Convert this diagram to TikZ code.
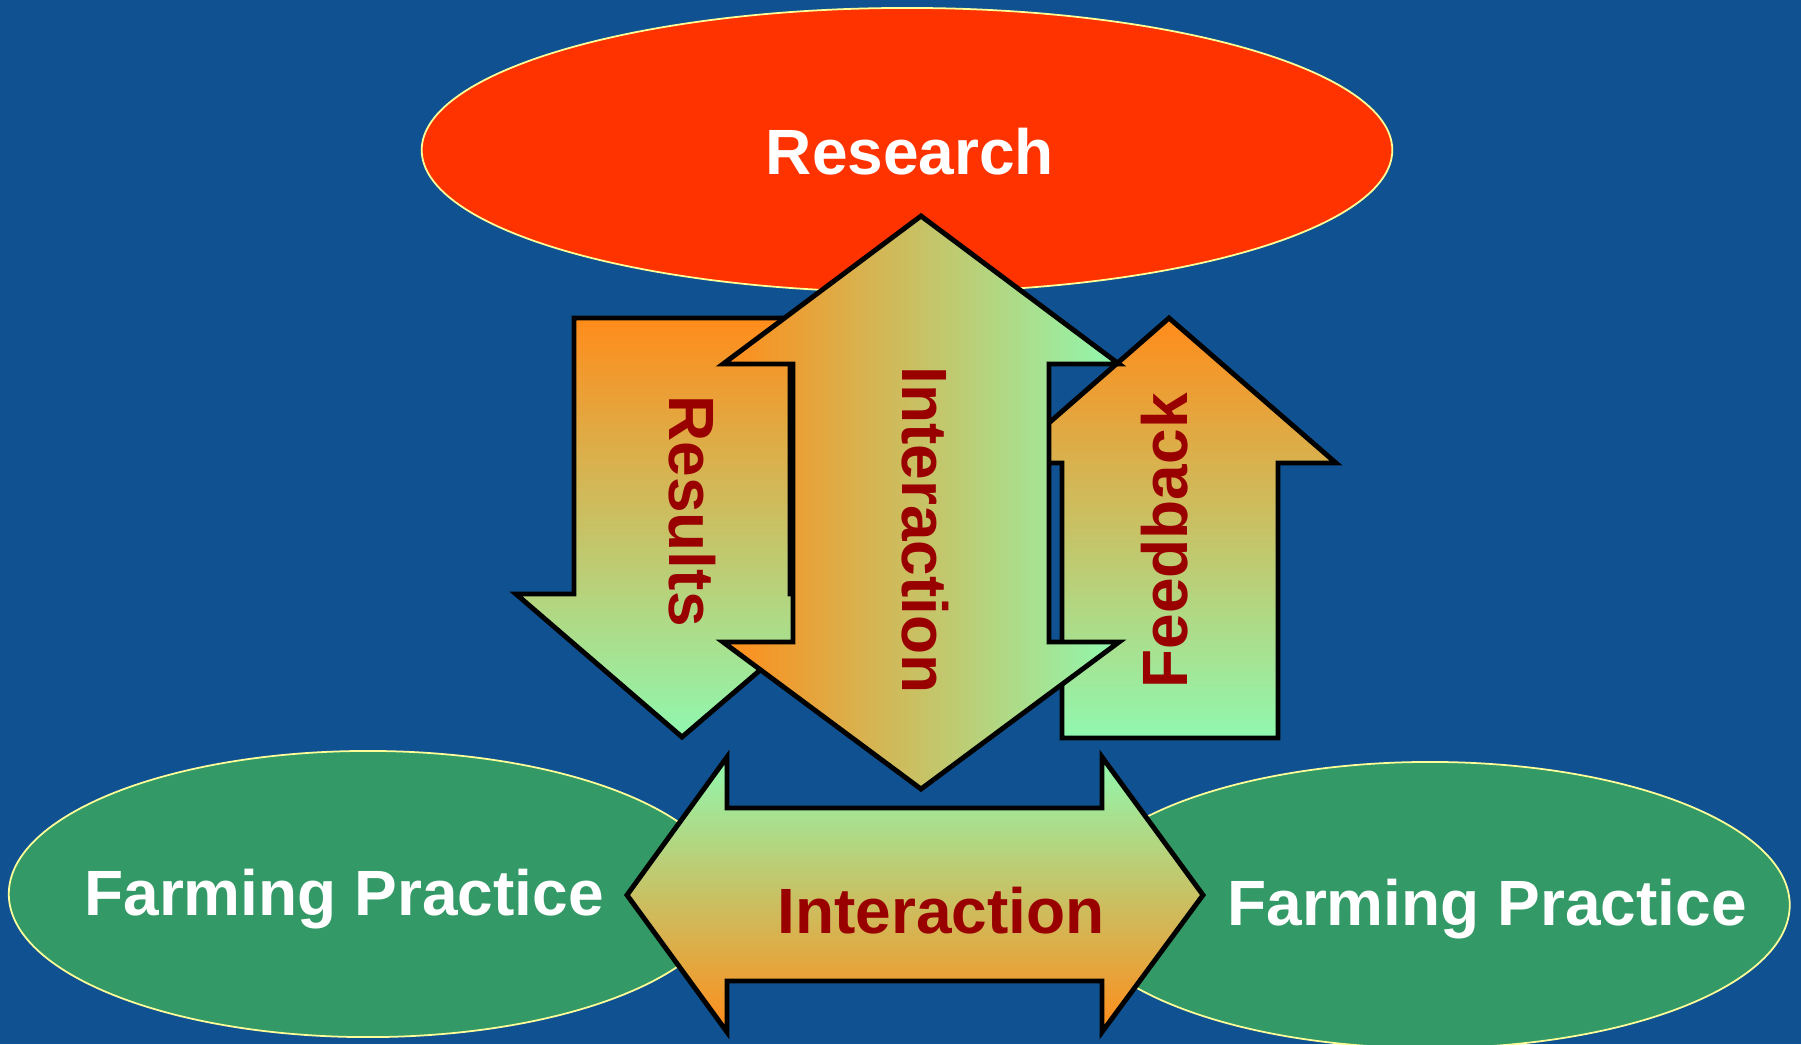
\documentclass[tikz,border=0pt]{standalone}
\usepackage{fontspec}
\setmainfont{Liberation Sans}
\usetikzlibrary{shapes.geometric}
\definecolor{bgblue}{RGB}{16,82,145}
\definecolor{resred}{RGB}{255,51,0}
\definecolor{farmgreen}{RGB}{51,153,102}
\definecolor{rimyellow}{RGB}{255,255,153}
\definecolor{arrorange}{RGB}{255,140,26}
\definecolor{arrtan}{RGB}{224,190,116}
\definecolor{arrmint}{RGB}{144,248,176}
\definecolor{labelred}{RGB}{153,0,0}
\tikzset{
  blob/.style={ellipse, draw=rimyellow, line width=0.5pt, inner sep=0pt},
  arrowshape/.style={draw=black, line width=1.4pt, line join=miter},
  downgrad/.style={top color=arrorange, middle color=arrtan, bottom color=arrmint},
  upgrad/.style={top color=arrmint, middle color=arrtan, bottom color=arrorange},
  sidegrad/.style={left color=arrorange, middle color=arrtan, right color=arrmint},
  whitelabel/.style={text=white, font=\fontsize{18.2}{22}\selectfont\bfseries, inner sep=0pt},
  redlabel/.style={text=labelred, font=\fontsize{18.2}{22}\selectfont\bfseries, inner sep=0pt}
}
\begin{document}
\begin{tikzpicture}[x=0.01cm,y=-0.01cm]
\useasboundingbox (0,0) rectangle (1801,1044);
\clip (0,0) rectangle (1801,1044);
\fill[bgblue] (0,0) rectangle (1801,1044);
% ellipses
\node[blob, fill=resred, minimum width=9.70cm, minimum height=2.84cm] (research) at (907,150) {};
\node[blob, fill=farmgreen, minimum width=7.18cm, minimum height=2.86cm] (farmL) at (368,894) {};
\node[blob, fill=farmgreen, minimum width=7.19cm, minimum height=2.86cm] (farmR) at (1430,905) {};
% Results arrow (down)
\draw[arrowshape, downgrad] (574,318) -- (790,318) -- (790,594) -- (849,594) -- (682,737)
  -- (516,594) -- (574,594) -- cycle;
% Feedback arrow (up)
\draw[arrowshape, downgrad] (1169,318) -- (1336,463) -- (1278,463) -- (1278,738)
  -- (1062,738) -- (1062,463) -- (1003,463) -- cycle;
% central vertical double arrow
\draw[arrowshape, sidegrad] (921,216) -- (1119,364) -- (1049,364) -- (1049,642)
  -- (1119,642) -- (921,789) -- (723,642) -- (793,642) -- (793,364) -- (723,364) -- cycle;
% horizontal double arrow
\draw[arrowshape, upgrad] (627,895) -- (727,757) -- (727,808) -- (1102,808) -- (1102,757)
  -- (1203,895) -- (1102,1032) -- (1102,981) -- (727,981) -- (727,1032) -- cycle;
% labels
\node[whitelabel, anchor=base] (researchtxt) at (910,174) {Research};
\node[whitelabel, anchor=base] (farmLtxt) at (344,915) {Farming Practice};
\node[whitelabel, anchor=base] (farmRtxt) at (1487,925) {Farming Practice};
\node[redlabel, rotate=-90] (resultstxt) at (692,511) {Results};
\node[redlabel, rotate=-90] (vinter) at (925,530) {Interaction};
\node[redlabel, rotate=90] (feedtxt) at (1165,541) {Feedback};
\node[redlabel, anchor=base] (hinter) at (941,933) {Interaction};
\end{tikzpicture}
\end{document}
